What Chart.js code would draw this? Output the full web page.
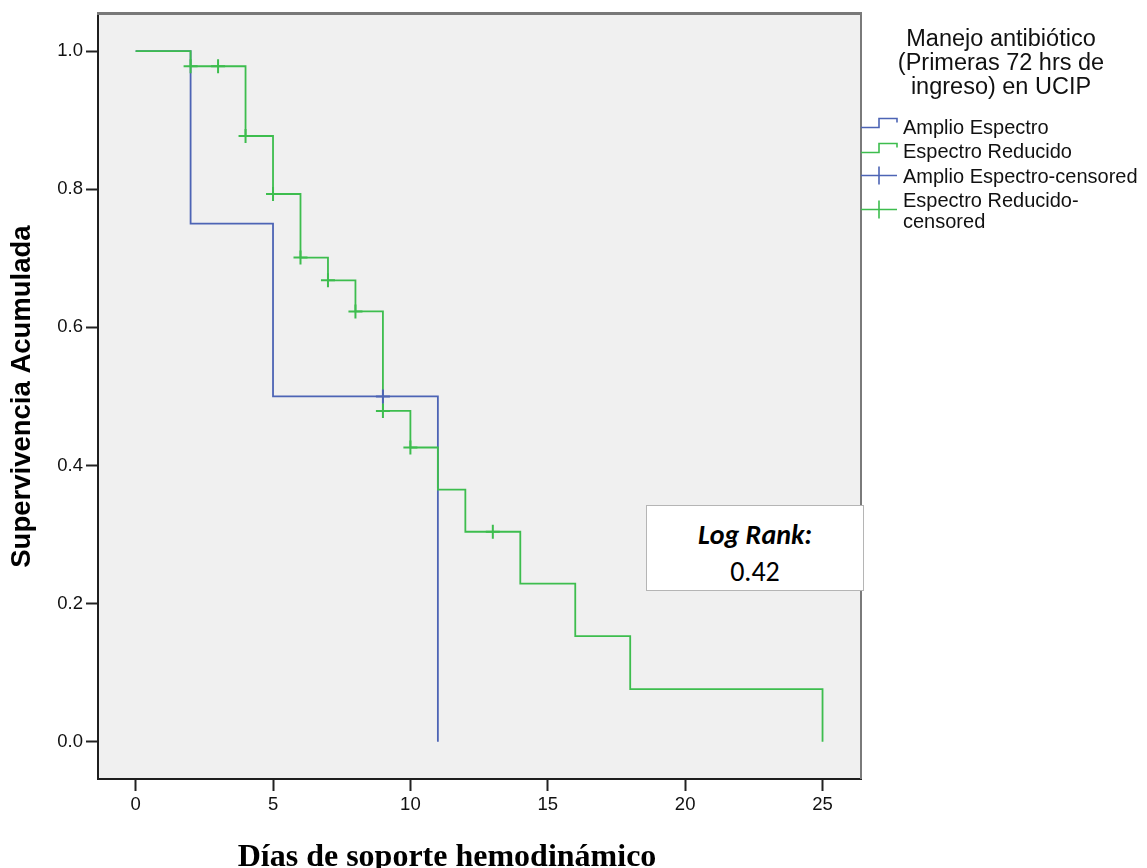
<!DOCTYPE html>
<html>
<head>
<meta charset="utf-8">
<script src="https://cdn.jsdelivr.net/npm/chart.js@4.4.1/dist/chart.umd.min.js"></script>
<style>
html,body{margin:0;padding:0;background:#fff;width:1147px;height:868px;overflow:hidden;}
#wrap{position:relative;width:1147px;height:868px;overflow:hidden;}
#c{position:absolute;left:0;top:0;}
.sans{position:absolute;font-family:"Liberation Sans",Arial,sans-serif;color:#111;white-space:nowrap;}
#legTitle{left:880px;top:26px;width:242px;text-align:center;font-size:23.5px;line-height:24px;}
.item{left:903px;font-size:20px;line-height:20px;}
#logbox{position:absolute;left:646px;top:505px;width:216px;height:84px;background:#fff;border:1px solid #b5b5b5;}
.lr{position:absolute;left:0;width:216px;text-align:center;font-family:Carlito,Lato,"Open Sans",sans-serif;font-size:28px;line-height:28px;color:#000;}
#xtitle{position:absolute;left:0;width:894px;top:839px;text-align:center;font-family:"Liberation Serif","Times New Roman",serif;font-weight:bold;font-size:32px;line-height:32px;color:#000;white-space:nowrap;}
</style>
</head>
<body>
<div id="wrap">
<canvas id="c" width="1147" height="868"></canvas>
<div id="legTitle" class="sans">Manejo antibiótico<br>(Primeras 72 hrs de<br>ingreso) en UCIP</div>
<div class="sans item" style="top:117px;">Amplio Espectro</div>
<div class="sans item" style="top:141px;">Espectro Reducido</div>
<div class="sans item" style="top:166px;">Amplio Espectro-censored</div>
<div class="sans item" style="top:190px;line-height:21px;">Espectro Reducido-<br>censored</div>
<div id="logbox">
  <div class="lr" style="top:15px;font-weight:bold;font-style:italic;">Log Rank:</div>
  <div class="lr" style="top:52px;">0.42</div>
</div>
<div id="xtitle">Días de soporte hemodinámico</div>
</div>
<script>
// ---- data ----
const xTickValues = [0, 5, 10, 15, 20, 25];
const yTickValues = [0, 0.2, 0.4, 0.6, 0.8, 1.0];

const amplioTimes = [0, 2, 5, 11];
const amplioSurv  = [1, 0.75, 0.5, 0];
const amplioCensTimes = [9];
const amplioCensSurv  = [0.5];

const reducidoTimes = [0, 2, 4, 5, 6, 7, 8, 9, 10, 11, 12, 14, 16, 18, 25];
const reducidoSurv  = [1, 0.978, 0.877, 0.793, 0.701, 0.668, 0.623, 0.479, 0.426, 0.365, 0.304, 0.229, 0.153, 0.076, 0];
const reducidoCensTimes = [2, 3, 4, 5, 6, 7, 8, 9, 10, 13];
const reducidoCensSurv  = [0.978, 0.978, 0.877, 0.793, 0.701, 0.668, 0.623, 0.479, 0.426, 0.304];

const seriesNames = ['Amplio Espectro', 'Espectro Reducido', 'Amplio Espectro-censored', 'Espectro Reducido-censored'];

// ---- styles ----
const BLUE = '#4d64b5';
const GREEN = '#3dbd4e';
const X_MIN = -1.37, X_MAX = 26.40;
const Y_MIN = -0.054, Y_MAX = 1.0535;

const pts = (xs, ys) => xs.map((t, i) => ({x: t, y: ys[i]}));

const framePlugin = {
  id: 'frame',
  beforeDraw(chart) {
    const {ctx, chartArea: a} = chart;
    ctx.save();
    ctx.fillStyle = '#f0f0f0';
    ctx.fillRect(a.left, a.top - 2, a.right - a.left, a.bottom - a.top + 2);
    ctx.restore();
  },
  afterDraw(chart) {
    const {ctx, chartArea: a} = chart;
    ctx.save();
    // top border
    ctx.strokeStyle = '#787878';
    ctx.lineWidth = 3;
    ctx.beginPath();
    ctx.moveTo(a.left - 1, a.top - 0.5);
    ctx.lineTo(a.right + 1, a.top - 0.5);
    ctx.stroke();
    // right border
    ctx.strokeStyle = '#7a7a7a';
    ctx.lineWidth = 2;
    ctx.beginPath();
    ctx.moveTo(a.right, a.top - 2);
    ctx.lineTo(a.right, a.bottom);
    ctx.stroke();
    // legend icons
    ctx.lineWidth = 1.6;
    const step = (color, yLow, yHigh) => {
      ctx.strokeStyle = color;
      ctx.beginPath();
      ctx.moveTo(861, yLow); ctx.lineTo(879, yLow); ctx.lineTo(879, yHigh);
      ctx.lineTo(897, yHigh); ctx.lineTo(897, yHigh + 4);
      ctx.stroke();
    };
    const cens = (color, y) => {
      ctx.strokeStyle = color;
      ctx.beginPath();
      ctx.moveTo(861, y); ctx.lineTo(897, y);
      ctx.moveTo(879, y - 9); ctx.lineTo(879, y + 9);
      ctx.stroke();
    };
    step(BLUE, 127.5, 118.5);
    step(GREEN, 152.5, 143.5);
    cens(BLUE, 175.5);
    cens(GREEN, 209.5);
    ctx.restore();
  }
};

new Chart(document.getElementById('c'), {
  type: 'line',
  data: {
    datasets: [
      {label: seriesNames[3], data: pts(reducidoCensTimes, reducidoCensSurv), showLine: false,
       pointStyle: 'cross', pointRadius: 7, pointBorderWidth: 2, borderColor: GREEN, backgroundColor: GREEN, pointHoverRadius: 7},
      {label: seriesNames[2], data: pts(amplioCensTimes, amplioCensSurv), showLine: false,
       pointStyle: 'cross', pointRadius: 7, pointBorderWidth: 2, borderColor: BLUE, backgroundColor: BLUE, pointHoverRadius: 7},
      {label: seriesNames[1], data: pts(reducidoTimes, reducidoSurv), stepped: 'before',
       borderColor: GREEN, borderWidth: 1.8, pointRadius: 0, fill: false},
      {label: seriesNames[0], data: pts(amplioTimes, amplioSurv), stepped: 'before',
       borderColor: BLUE, borderWidth: 1.8, pointRadius: 0, fill: false}
    ]
  },
  options: {
    responsive: false,
    animation: false,
    devicePixelRatio: 1,
    layout: {padding: {left: 0, top: 14, right: 286, bottom: 0}},
    plugins: {legend: {display: false}, tooltip: {enabled: false}},
    events: [],
    scales: {
      x: {
        type: 'linear', min: X_MIN, max: X_MAX,
        afterBuildTicks: s => { s.ticks = xTickValues.map(v => ({value: v})); },
        afterFit: s => { s.height = 89; },
        grid: {drawOnChartArea: false, drawTicks: true, tickLength: 12, tickWidth: 2, tickColor: '#222'},
        border: {display: true, color: '#1e1e1e', width: 2},
        ticks: {font: {family: '"Liberation Sans", Arial, sans-serif', size: 18.5}, color: '#111', padding: 3,
                maxRotation: 0, autoSkip: false, callback: v => String(v)}
      },
      y: {
        type: 'linear', min: Y_MIN, max: Y_MAX,
        afterBuildTicks: s => { s.ticks = yTickValues.map(v => ({value: v})); },
        afterFit: s => { s.width = 98; },
        grid: {drawOnChartArea: false, drawTicks: true, tickLength: 12, tickWidth: 2, tickColor: '#222'},
        border: {display: true, color: '#1e1e1e', width: 2},
        ticks: {font: {family: '"Liberation Sans", Arial, sans-serif', size: 18.5}, color: '#111', padding: 3,
                autoSkip: false, callback: v => Number(v).toFixed(1)},
        title: {display: true, text: 'Supervivencia Acumulada', color: '#000',
                font: {family: '"Liberation Sans", Arial, sans-serif', size: 27.5, weight: 'bold'},
                padding: {top: 6, bottom: 0}}
      }
    }
  },
  plugins: [framePlugin]
});
</script>
</body>
</html>
